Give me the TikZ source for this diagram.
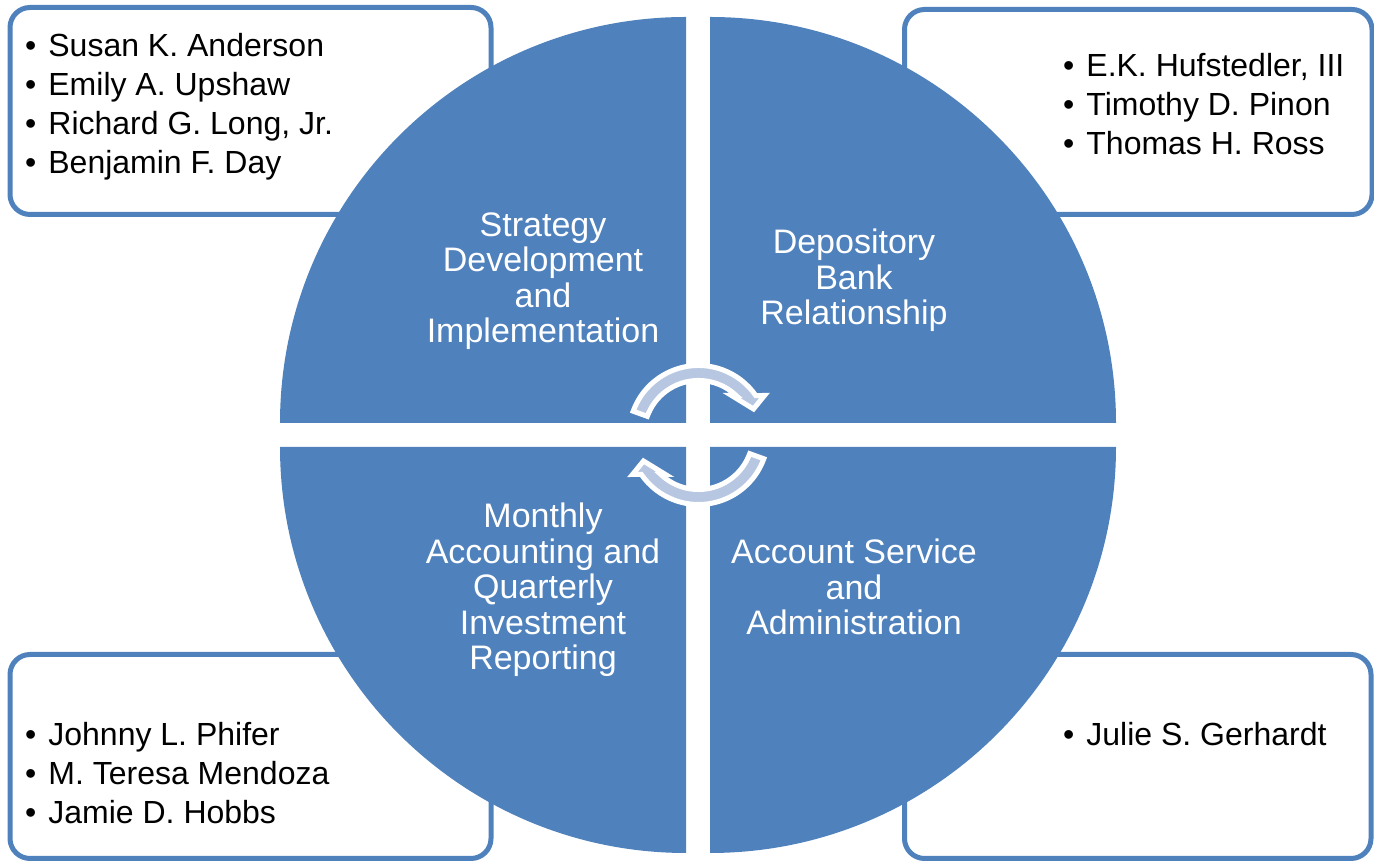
\documentclass[tikz,border=0pt]{standalone}
\usepackage{fontspec}
\setmainfont{Liberation Sans}
\definecolor{pieblue}{HTML}{4F81BD}
\definecolor{turnblue}{HTML}{B7C7E2}
\newcommand\pers[1]{\textbullet\hspace{12pt}#1}

\begin{document}
\begin{tikzpicture}[x=1pt,y=1pt,
    namebox/.style={draw=pieblue,line width=5pt,fill=white,rounded corners=20pt},
    quarter/.style={fill=pieblue},
    quartext/.style={text=white,align=center,anchor=base,inner sep=0pt,
        font=\fontsize{34}{35.5}\selectfont},
    people/.style={align=left,anchor=base west,inner sep=0pt,
        font=\fontsize{32}{39}\selectfont},
    turnarrow/.style={fill=turnblue,draw=white,line width=5pt,line join=miter}]
    \useasboundingbox (0,0) rectangle (1374,861);
    % boxes with the names (node anchor = last line)
    \draw [namebox] (10,853.5) rectangle (491,646.5);
    \draw [namebox] (904.5,851.5) rectangle (1372,646.5);
    \draw [namebox] (10,206.5) rectangle (491,2.5);
    \draw [namebox] (904.5,206.5) rectangle (1371,2.5);
    \node [people] (tlnames) at (25,687) {\pers{Susan K. Anderson}\\ \pers{Emily A. Upshaw}\\
        \pers{Richard G. Long, Jr.}\\ \pers{Benjamin F. Day}};
    \node [people] (trnames) at (1063,706) {\pers{E.K. Hufstedler, III}\\
        \pers{Timothy D. Pinon}\\ \pers{Thomas H. Ross}};
    \node [people] (blnames) at (25,37) {\pers{Johnny L. Phifer}\\
        \pers{M. Teresa Mendoza}\\ \pers{Jamie D. Hobbs}};
    \node [people] (brnames) at (1063,115) {\pers{Julie S. Gerhardt}};
    % the four quarters
    \foreach \cx/\cy/\a in {686/438/90,710/438/0,686/414/180,710/414/270}{
        \fill [quarter] (\cx,\cy) -- ++(\a:406) arc [start angle=\a,delta angle=90,radius=406] -- cycle;
    }
    \node [quartext] (strategy) at (543,518) {Strategy\\ Development\\ and\\ Implementation};
    \node [quartext] (depository) at (854,536) {Depository\\ Bank\\ Relationship};
    \node [quartext] (monthly) at (543,191) {Monthly\\ Accounting and\\ Quarterly\\ Investment\\ Reporting};
    \node [quartext] (account) at (854,226) {Account Service\\ and\\ Administration};
    % turning arrows in the middle
    \foreach \r in {0,180}{
        \begin{scope}[shift={(698.5,426)},rotate=\r]
        \draw [turnarrow] (160:69.5) arc [start angle=160,end angle=34.6,radius=69.5]
            -- (66,39.5) -- (55,26) -- (33,39.5) -- (37.6,39.5)
            arc [start angle=46.4,end angle=160,radius=54.5] -- cycle;
        \end{scope}
    }
\end{tikzpicture}
\end{document}
